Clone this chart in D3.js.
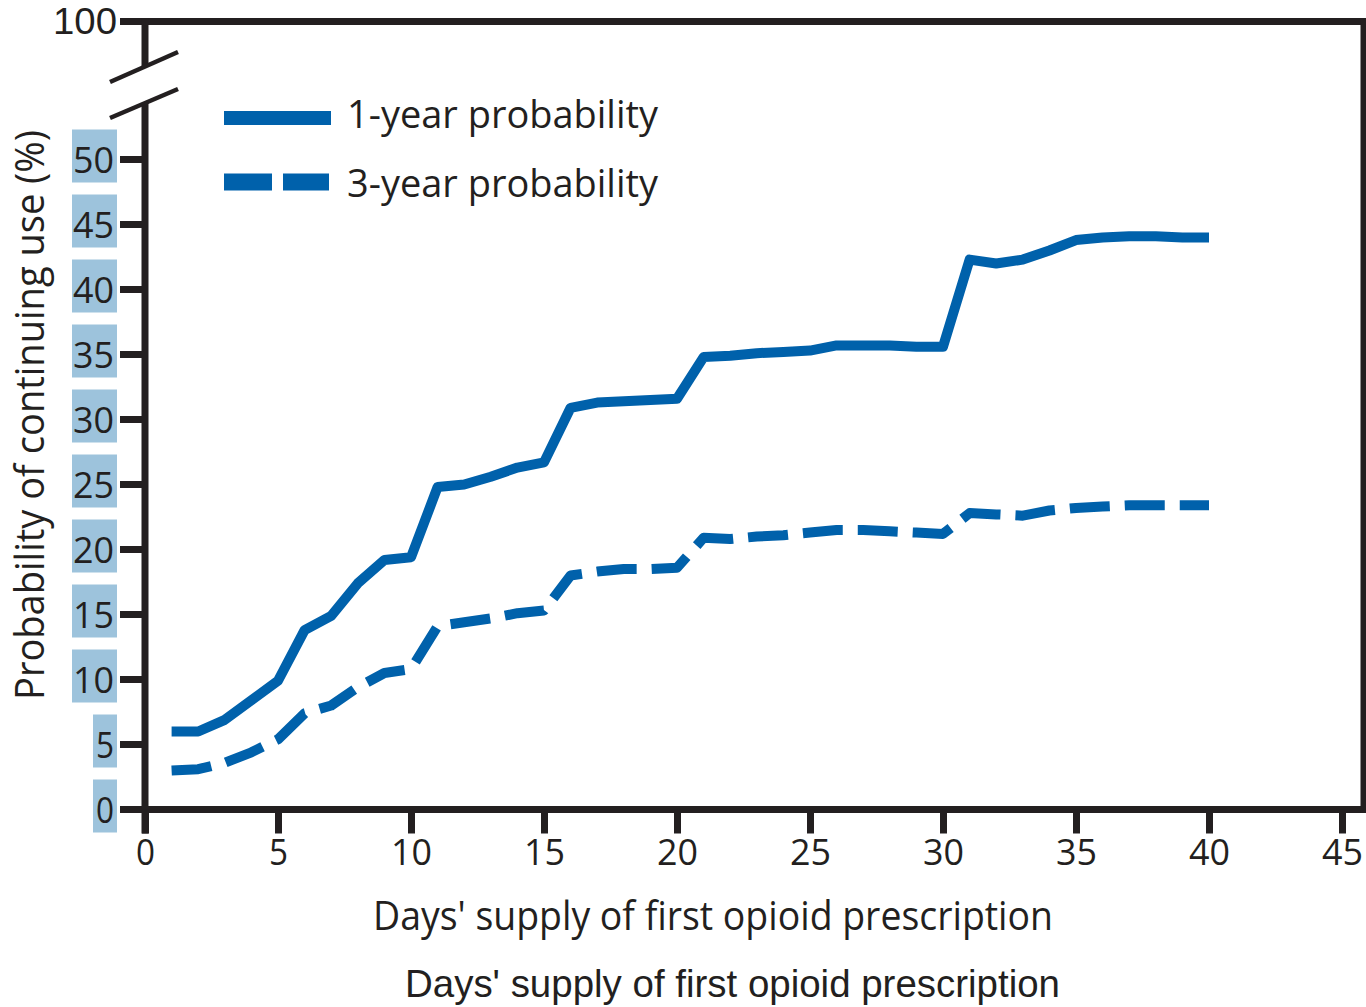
<!DOCTYPE html>
<html>
<head>
<meta charset="utf-8">
<script src="https://cdn.jsdelivr.net/npm/d3@7"></script>
<style>
  html, body { margin: 0; padding: 0; background: #fff; }
  svg { display: block; }
  text { font-family: "Open Sans", "Noto Sans", sans-serif; fill: #231f20; }
</style>
</head>
<body>
<svg id="chart" width="1366" height="1007"></svg>
<script>
// ---- data ----
const days = [1,2,3,4,5,6,7,8,9,10,11,12,13,14,15,16,17,18,19,20,21,22,23,24,25,26,27,28,29,30,31,32,33,34,35,36,37,38,39,40];
const oneYear = [6.0,6.0,6.9,8.4,9.9,13.8,14.9,17.4,19.2,19.4,24.8,25.0,25.6,26.3,26.7,30.9,31.3,31.4,31.5,31.6,34.8,34.9,35.1,35.2,35.3,35.7,35.7,35.7,35.6,35.6,42.3,42.0,42.3,43.0,43.8,44.0,44.1,44.1,44.0,44.0];
const threeYear = [3.0,3.1,3.6,4.4,5.4,7.4,8.0,9.4,10.5,10.8,14.1,14.4,14.7,15.1,15.3,18.0,18.3,18.5,18.5,18.6,20.9,20.8,21.0,21.1,21.3,21.5,21.5,21.4,21.3,21.2,22.8,22.7,22.6,23.0,23.2,23.3,23.4,23.4,23.4,23.4];
const xTicks = [0,5,10,15,20,25,30,35,40,45];
const yTicks = [0,5,10,15,20,25,30,35,40,45,50];
const yTopTick = 100;
const seriesNames = ["1-year probability", "3-year probability"];
const xTitle = "Days' supply of first opioid prescription";
const yTitle = "Probability of continuing use (%)";

// ---- layout ----
const svg = d3.select("#chart");
const dark = "#231f20";
const blue = "#0061ab";
const labelBg = "#9dc3dc";
const axisW = 7;

const x = d3.scaleLinear().domain([0, 45]).range([145, 1342]);
// broken axis: 0-50 normal, 50-100 compressed
const y = d3.scaleLinear().domain([0, 50, 100]).range([809.5, 159.5, 21.5]);

const frameRight = 1364;

// frame: top, right
svg.append("line").attr("x1", 120).attr("x2", frameRight + axisW/2).attr("y1", y(100)).attr("y2", y(100))
  .attr("stroke", dark).attr("stroke-width", axisW);
svg.append("line").attr("x1", frameRight).attr("x2", frameRight).attr("y1", y(100) - axisW/2).attr("y2", y(0) + axisW/2)
  .attr("stroke", dark).attr("stroke-width", axisW);

// left axis (broken)
svg.append("line").attr("x1", x(0)).attr("x2", x(0)).attr("y1", y(100) - axisW/2).attr("y2", 66)
  .attr("stroke", dark).attr("stroke-width", axisW);
svg.append("line").attr("x1", x(0)).attr("x2", x(0)).attr("y1", 103).attr("y2", y(0) + 24)
  .attr("stroke", dark).attr("stroke-width", axisW);
// break slashes
[[82, 52], [118, 89]].forEach(([y1, y2]) => {
  svg.append("line").attr("x1", 110).attr("y1", y1).attr("x2", 178).attr("y2", y2)
    .attr("stroke", dark).attr("stroke-width", 4.5);
});

// y ticks + labels with highlight boxes
const yg = svg.append("g");
yTicks.forEach(t => {
  const ty = y(t);
  const label = String(t);
  const w = label.length === 1 ? 24 : 45;
  yg.append("rect").attr("x", 117 - w).attr("y", ty - 30).attr("width", w).attr("height", 53)
    .attr("fill", labelBg);
  yg.append("line").attr("x1", 120).attr("x2", x(0)).attr("y1", ty).attr("y2", ty)
    .attr("stroke", dark).attr("stroke-width", axisW);
  yg.append("text").attr("x", 114).attr("y", ty + 13.5).attr("text-anchor", "end")
    .attr("font-size", 37).attr("textLength", label.length === 1 ? 18 : 41).attr("lengthAdjust", "spacingAndGlyphs")
    .text(label);
});
yg.append("text").attr("x", 117).attr("y", 34).attr("text-anchor", "end")
  .style("font-family", "'Liberation Sans', Arial, sans-serif")
  .attr("font-size", 36).attr("textLength", 64).attr("lengthAdjust", "spacingAndGlyphs")
  .text(String(yTopTick));

// x axis via d3.axisBottom
const xAxis = d3.axisBottom(x).tickValues(xTicks).tickSize(24).tickSizeOuter(0).tickPadding(4);
const xg = svg.append("g").attr("transform", `translate(0,${y(0)})`).call(xAxis);
xg.select(".domain").attr("stroke", dark).attr("stroke-width", axisW)
  .attr("d", `M${x(0) - axisW/2},0H${frameRight + axisW/2}`);
xg.selectAll(".tick line").attr("stroke", dark).attr("stroke-width", axisW);
xg.selectAll(".tick text")
  .attr("font-family", "'Open Sans', sans-serif").attr("font-size", 37).attr("fill", dark)
  .attr("y", 55.5).attr("dy", 0)
  .attr("textLength", d => String(d).length === 1 ? 19 : 41).attr("lengthAdjust", "spacingAndGlyphs");

// lines
const line = d3.line().x((d, i) => x(days[i])).y(d => y(d)).curve(d3.curveLinear);
svg.append("path").datum(oneYear).attr("d", line).attr("fill", "none")
  .attr("stroke", blue).attr("stroke-width", 10).attr("stroke-linejoin", "round");
svg.append("path").datum(threeYear).attr("d", line).attr("fill", "none")
  .attr("stroke", blue).attr("stroke-width", 10).attr("stroke-linejoin", "round")
  .attr("stroke-dasharray", "40,15");

// legend
svg.append("line").attr("x1", 224).attr("x2", 331).attr("y1", 118).attr("y2", 118)
  .attr("stroke", blue).attr("stroke-width", 14);
svg.append("line").attr("x1", 224).attr("x2", 329).attr("y1", 182).attr("y2", 182)
  .attr("stroke", blue).attr("stroke-width", 17).attr("stroke-dasharray", "48,11");
svg.append("text").attr("x", 347).attr("y", 128).attr("font-size", 38)
  .attr("textLength", 311).attr("lengthAdjust", "spacingAndGlyphs").text(seriesNames[0]);
svg.append("text").attr("x", 347).attr("y", 197).attr("font-size", 38)
  .attr("textLength", 311).attr("lengthAdjust", "spacingAndGlyphs").text(seriesNames[1]);

// axis titles
svg.append("text").attr("x", 373).attr("y", 930).attr("font-size", 40)
  .attr("textLength", 680).attr("lengthAdjust", "spacingAndGlyphs").text(xTitle);
svg.append("text").attr("x", 405).attr("y", 997)
  .style("font-family", "'Liberation Sans', Arial, sans-serif").attr("font-size", 39)
  .attr("textLength", 655).attr("lengthAdjust", "spacingAndGlyphs").text(xTitle);
svg.append("text").attr("transform", "translate(44,700) rotate(-90)").attr("font-size", 40)
  .attr("textLength", 570).attr("lengthAdjust", "spacingAndGlyphs").text(yTitle);
</script>
</body>
</html>
